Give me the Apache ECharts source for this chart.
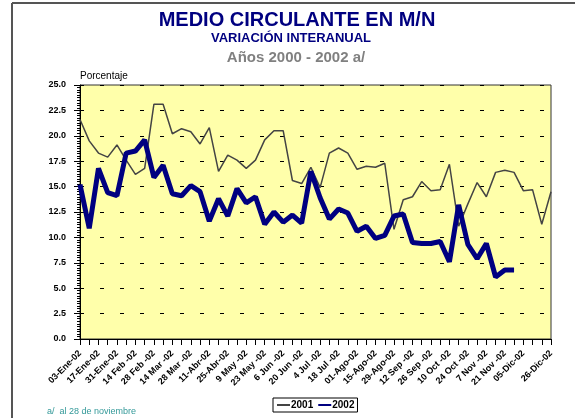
<!DOCTYPE html>
<html>
<head>
<meta charset="utf-8">
<script src="https://cdn.jsdelivr.net/npm/echarts@6/dist/echarts.min.js"></script>
<style>
  html, body { margin: 0; padding: 0; background: #fff; }
  #chart { width: 575px; height: 418px; }
</style>
</head>
<body>
<div id="chart"></div>
<script>
// semanas de 2002 (jueves)
const semanas = [
  '03-Ene-02', '10-Ene-02', '17-Ene-02', '24-Ene-02', '31-Ene-02',
  '7 Feb -02', '14 Feb -02', '21 Feb -02', '28 Feb -02',
  '7 Mar -02', '14 Mar -02', '21 Mar -02', '28 Mar -02',
  '04-Abr-02', '11-Abr-02', '18-Abr-02', '25-Abr-02',
  '2 May -02', '9 May -02', '16 May -02', '23 May -02', '30 May -02',
  '6 Jun -02', '13 Jun -02', '20 Jun -02', '27 Jun -02',
  '4 Jul -02', '11 Jul -02', '18 Jul -02', '25 Jul -02',
  '01-Ago-02', '08-Ago-02', '15-Ago-02', '22-Ago-02', '29-Ago-02',
  '5 Sep -02', '12 Sep -02', '19 Sep -02', '26 Sep -02',
  '3 Oct -02', '10 Oct -02', '17 Oct -02', '24 Oct -02', '31 Oct -02',
  '7 Nov -02', '14 Nov -02', '21 Nov -02', '28 Nov -02',
  '05-Dic-02', '12-Dic-02', '19-Dic-02', '26-Dic-02'
]

// variacion interanual (%)
const serie2001 = [
  21.6, 19.5, 18.3, 17.9, 19.1, 17.6, 16.2, 16.8, 23.1, 23.1,
  20.2, 20.7, 20.4, 19.2, 20.8, 16.5, 18.1, 17.6, 16.8, 17.6,
  19.6, 20.5, 20.5, 15.6, 15.3, 16.9, 14.9, 18.3, 18.8, 18.3,
  16.7, 17.0, 16.9, 17.3, 10.8, 13.7, 14.0, 15.5, 14.6, 14.7,
  17.2, 11.1, 13.3, 15.4, 14.0, 16.4, 16.6, 16.4, 14.6, 14.7,
  11.3, 14.5
]

const serie2002 = [
  15.2, 10.9, 16.8, 14.4, 14.1, 18.3, 18.5, 19.6, 15.9, 17.1,
  14.3, 14.1, 15.1, 14.5, 11.6, 13.8, 12.1, 14.8, 13.4, 14.0,
  11.3, 12.5, 11.5, 12.2, 11.4, 16.5, 13.9, 11.8, 12.8, 12.4,
  10.6, 11.1, 9.9, 10.2, 12.1, 12.3, 9.5, 9.4, 9.4, 9.6,
  7.6, 13.2, 9.3, 7.9, 9.4, 6.1, 6.8, 6.8
]

const chart = echarts.init(document.getElementById('chart'))
const fuente = 'Arial, "Liberation Sans", sans-serif'

const option = {
  animation: false,
  textStyle: { fontFamily: fuente },
  graphic: [
    // marco
    { type: 'line', shape: { x1: 12, y1: 3, x2: 12, y2: 418 }, style: { stroke: '#555', lineWidth: 2 } },
    { type: 'line', shape: { x1: 12, y1: 3, x2: 575, y2: 3 }, style: { stroke: '#555', lineWidth: 2 } },
    {
      type: 'text', x: 297, y: 20,
      style: { text: 'MEDIO CIRCULANTE EN M/N', fill: '#000080', font: 'bold 20px ' + fuente, textAlign: 'center', textVerticalAlign: 'middle' }
    },
    {
      type: 'text', x: 291, y: 38,
      style: { text: 'VARIACIÓN INTERANUAL', fill: '#000080', font: 'bold 13px ' + fuente, textAlign: 'center', textVerticalAlign: 'middle' }
    },
    {
      type: 'text', x: 296, y: 58,
      style: { text: 'Años 2000 - 2002 a/', fill: '#808080', font: 'bold 15px ' + fuente, textAlign: 'center', textVerticalAlign: 'middle' }
    },
    {
      type: 'text', x: 80, y: 76,
      style: { text: 'Porcentaje', fill: '#000', font: '10px ' + fuente, textAlign: 'left', textVerticalAlign: 'middle' }
    },
    {
      type: 'text', x: 47, y: 412,
      style: { text: 'a/  al 28 de noviembre', fill: '#339999', font: '9px ' + fuente, textAlign: 'left', textVerticalAlign: 'middle' }
    }
  ],
  grid: {
    left: 80, right: 24, top: 85, bottom: 79,
    show: true, backgroundColor: '#ffffaa', borderColor: '#333', borderWidth: 1
  },
  legend: {
    left: 273, top: 398,
    orient: 'horizontal',
    borderColor: '#000', borderWidth: 1,
    padding: [2, 3],
    itemGap: 4,
    itemWidth: 13,
    itemHeight: 8,
    itemStyle: { opacity: 0 },
    textStyle: { fontWeight: 'bold', fontSize: 10, color: '#000', padding: [0, 0, 0, -4] },
    data: ['2001', '2002']
  },
  xAxis: {
    type: 'category',
    data: semanas,
    boundaryGap: false,
    axisLine: { lineStyle: { color: '#000', width: 1 } },
    axisTick: { show: true, interval: 0, length: 6, lineStyle: { color: '#000' } },
    axisLabel: {
      rotate: 45,
      margin: 13,
      fontSize: 9,
      fontWeight: 'bold',
      color: '#000',
      interval: (i) => (i % 2 === 0 && i <= 48) || i === 51
    },
    splitLine: { show: false }
  },
  yAxis: {
    type: 'value',
    min: 0, max: 25, interval: 2.5,
    axisLine: { show: true, lineStyle: { color: '#000', width: 1 } },
    axisTick: { show: true, length: 6, lineStyle: { color: '#000' } },
    minorTick: { show: true, splitNumber: 10, length: 3, lineStyle: { color: '#000' } },
    axisLabel: {
      margin: 14,
      fontSize: 9,
      fontWeight: 'bold',
      color: '#000',
      formatter: (v) => v.toFixed(1)
    },
    splitLine: { show: true, lineStyle: { color: '#000', type: [4, 16], width: 1 } }
  },
  series: [
    {
      name: '2001',
      type: 'line',
      data: serie2001,
      symbol: 'none',
      lineStyle: { color: '#444', width: 1.5 },
      itemStyle: { color: '#444' }
    },
    {
      name: '2002',
      type: 'line',
      data: serie2002,
      symbol: 'none',
      lineStyle: { color: '#000080', width: 5 },
      itemStyle: { color: '#000080' }
    }
  ]
}

chart.setOption(option)
</script>
</body>
</html>
